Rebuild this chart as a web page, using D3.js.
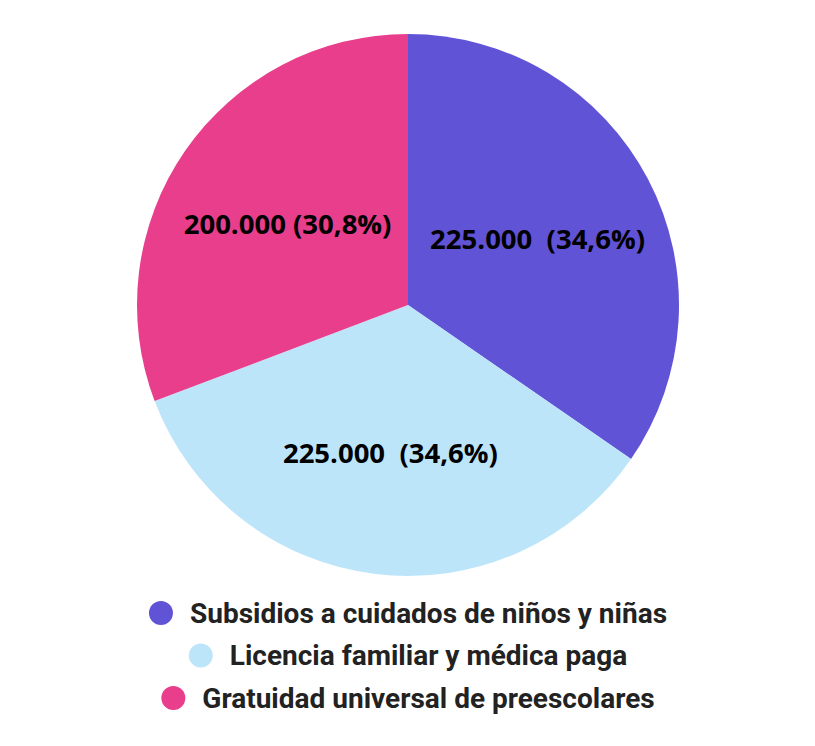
<!DOCTYPE html>
<html>
<head>
<meta charset="utf-8">
<script src="https://cdn.jsdelivr.net/npm/d3@7"></script>
<style>
  body { margin: 0; background: #fff; }
  svg { display: block; }
</style>
</head>
<body>
<div id="chart"></div>
<script>
// slices, clockwise from 12 o'clock
var categories = ["Subsidios a cuidados de niños y niñas", "Licencia familiar y médica paga", "Gratuidad universal de preescolares"]
var values = [225000, 225000, 200000]
var labels = ["225.000  (34,6%)", "225.000  (34,6%)", "200.000 (30,8%)"]
var colors = ["#6153d6", "#bde5fa", "#e83e8c"]

var w = 815
var h = 746
var cx = 408
var cy = 305
var radius = 271

var svg = d3.select("#chart")
            .append("svg")
            .attr("width", w)
            .attr("height", h)

var pie = d3.pie().sort(null).value(d => d)
var arcs = pie(values)

var arc = d3.arc().innerRadius(0).outerRadius(radius)
var labelArc = d3.arc().innerRadius(radius * 0.54).outerRadius(radius * 0.54)

var g = svg.append("g").attr("transform", "translate(" + cx + "," + cy + ")")

g.selectAll("path")
 .data(arcs)
 .enter()
 .append("path")
 .attr("d", arc)
 .attr("fill", (d, i) => colors[i])

g.selectAll("text")
 .data(arcs)
 .enter()
 .append("text")
 .attr("transform", d => "translate(" + labelArc.centroid(d) + ")")
 .attr("text-anchor", "middle")
 .attr("dy", "0.45em")
 .style("white-space", "pre")
 .attr("font-family", "'Open Sans', sans-serif")
 .attr("font-weight", 700)
 .attr("font-size", "27.5px")
 .attr("fill", "#000")
 .text((d, i) => labels[i])

// Legend, one centred row per category
var legendTop = 613
var rowGap = 42.5
var dotR = 12
var dotGap = 17

var legend = svg.append("g")
var rows = legend.selectAll("g")
  .data(categories)
  .enter()
  .append("g")

rows.append("text")
  .attr("font-family", "Roboto, sans-serif")
  .attr("font-weight", 700)
  .attr("font-size", "28px")
  .attr("fill", "#222")
  .attr("dy", "0.35em")
  .text(d => d)

rows.each(function(d, i) {
  var row = d3.select(this)
  var tw = row.select("text").node().getComputedTextLength()
  var total = dotR * 2 + dotGap + tw
  var x0 = cx - total / 2
  row.attr("transform", "translate(" + x0 + "," + (legendTop + i * rowGap) + ")")
  row.select("text").attr("x", dotR * 2 + dotGap)
  row.insert("circle", "text")
     .attr("cx", dotR)
     .attr("cy", 0)
     .attr("r", dotR)
     .attr("fill", colors[i])
})
</script>
</body>
</html>
